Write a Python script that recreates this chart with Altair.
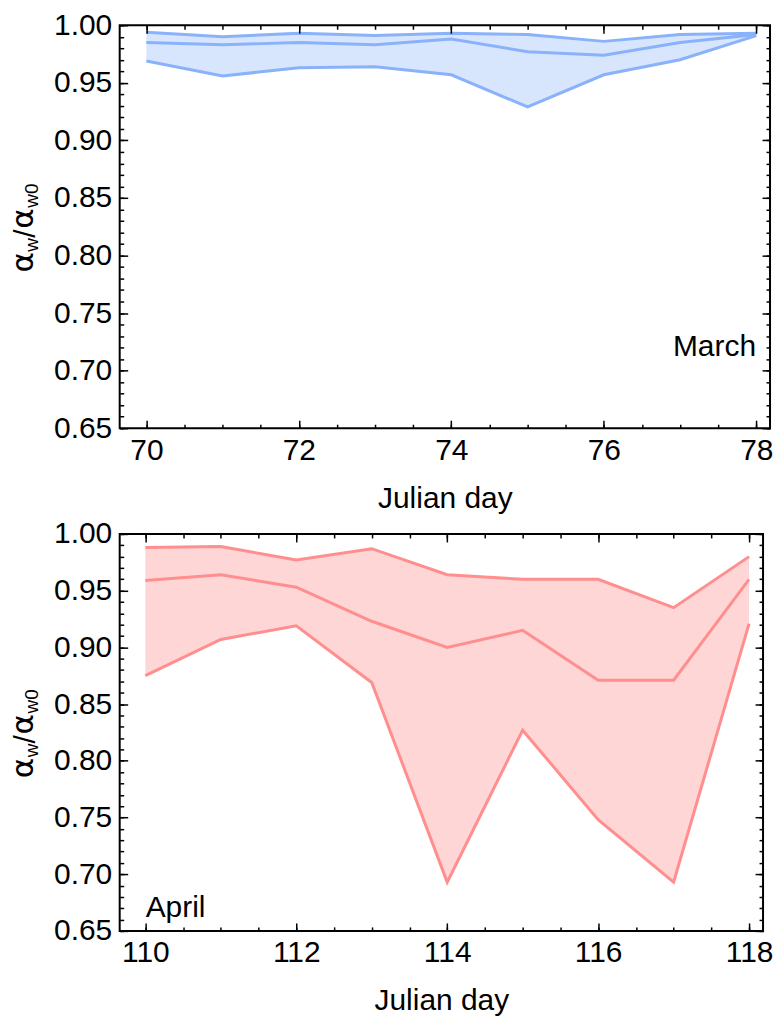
import altair as alt
import pandas as pd

# ---- data ----
march_days = [70, 71, 72, 73, 74, 75, 76, 77, 78]
march_upper = [0.994, 0.990, 0.993, 0.991, 0.993, 0.992, 0.986, 0.992, 0.993]
march_mid = [0.985, 0.983, 0.985, 0.983, 0.988, 0.977, 0.974, 0.985, 0.992]
march_lower = [0.969, 0.956, 0.963, 0.964, 0.957, 0.929, 0.957, 0.970, 0.991]

april_days = [110, 111, 112, 113, 114, 115, 116, 117, 118]
april_upper = [0.988, 0.989, 0.977, 0.987, 0.964, 0.960, 0.960, 0.935, 0.980]
april_mid = [0.959, 0.964, 0.953, 0.923, 0.900, 0.915, 0.871, 0.871, 0.960]
april_lower = [0.875, 0.907, 0.919, 0.869, 0.693, 0.827, 0.748, 0.693, 0.921]

march_ticks = [70, 72, 74, 76, 78]
april_ticks = [110, 112, 114, 116, 118]
y_ticks = [0.65, 0.70, 0.75, 0.80, 0.85, 0.90, 0.95, 1.00]

FONT = "Liberation Sans"
GREEK_FONT = "DejaVu Sans"
FS = 30


def axis_common(**kw):
    base = dict(domain=False, grid=False, ticks=True, tickColor="black", tickWidth=1.5,
                tickOpacity=1, labelFlush=False, labelOverlap=False, zindex=2)
    base.update(kw)
    return alt.Axis(**base)


def panel(days, upper, mid, lower, line_color, fill_color, x_dom, x_major,
          width, height, label_text, label_x, label_y, label_align):
    df = pd.DataFrame({"day": days, "upper": upper, "mid": mid, "lower": lower})
    base = alt.Chart(df)
    xs = alt.Scale(domain=x_dom, nice=False, zero=False)
    ys = alt.Scale(domain=[0.65, 1.0], nice=False, zero=False)
    lo2 = int(-(-x_dom[0] * 2 // 1))
    hi2 = int(x_dom[1] * 2 // 1)
    x_minor = [v / 2 for v in range(lo2, hi2 + 1)]
    y_minor = [round(0.65 + 0.01 * i, 2) for i in range(36)]

    area = base.mark_area(color=fill_color, opacity=1).encode(
        x=alt.X("day:Q", scale=xs, axis=axis_common(
            orient="bottom", values=x_major, offset=-8, tickSize=8, format="d",
            labelFont=FONT, labelFontSize=FS, labelColor="black", labelPadding=7,
            title="Julian day", titleFont=FONT, titleFontSize=FS,
            titleFontWeight="normal", titleColor="black", titlePadding=18)),
        y=alt.Y("lower:Q", scale=ys, axis=axis_common(
            orient="left", values=y_ticks, offset=-8, tickSize=8, format=".2f",
            labelFont=FONT, labelFontSize=FS, labelColor="black", labelPadding=8,
            title=None)),
        y2="upper:Q",
    )
    lines = base.transform_fold(["upper", "mid", "lower"], as_=["series", "val"]).mark_line(
        color=line_color, strokeWidth=3).encode(
        x=alt.X("day:Q", scale=xs, axis=axis_common(
            orient="bottom", values=x_minor, offset=-4, tickSize=4, labels=False,
            title=None, minExtent=0)),
        y=alt.Y("val:Q", scale=ys, axis=axis_common(
            orient="left", values=y_minor, offset=-4, tickSize=4, labels=False,
            title=None, minExtent=0)),
        detail="series:N",
    )
    ghost_major = base.mark_point(opacity=0).encode(
        x=alt.X("day:Q", scale=xs, axis=axis_common(
            orient="top", values=x_major, offset=-8, tickSize=8, labels=False,
            title=None, minExtent=0)),
        y=alt.Y("mid:Q", scale=ys, axis=axis_common(
            orient="right", values=y_ticks, offset=-8, tickSize=8, labels=False,
            title=None, minExtent=0)),
    )
    ghost_minor = base.mark_point(opacity=0).encode(
        x=alt.X("day:Q", scale=xs, axis=axis_common(
            orient="top", values=x_minor, offset=-4, tickSize=4, labels=False,
            title=None, minExtent=0)),
        y=alt.Y("mid:Q", scale=ys, axis=axis_common(
            orient="right", values=y_minor, offset=-4, tickSize=4, labels=False,
            title=None, minExtent=0)),
    )

    one = alt.Chart(pd.DataFrame({"k": [0]}))
    label = one.mark_text(text=label_text, font=FONT, fontSize=FS, color="black",
                          align=label_align, baseline="alphabetic").encode(
        x=alt.value(label_x), y=alt.value(label_y))

    # rotated y-axis title  alpha_w / alpha_w0
    c = height / 2
    pieces = [
        ("α", GREEK_FONT, 31, -87, 46),
        ("w", FONT, 19, -82, 25),
        ("/", FONT, 30, -85, 11),
        ("α", GREEK_FONT, 31, -87, 2),
        ("w0", FONT, 19, -82, -19),
    ]
    title_layers = [
        one.mark_text(text=t, font=f, fontSize=s, color="black", angle=270,
                      align="left", baseline="alphabetic").encode(
            x=alt.value(dx), y=alt.value(c + dy))
        for (t, f, s, dx, dy) in pieces
    ]

    return alt.layer(area, lines, ghost_major, ghost_minor, label, *title_layers).resolve_axis(
        x="independent", y="independent").properties(width=width, height=height)


top = panel(march_days, march_upper, march_mid, march_lower, "#8AB2FA", "#D8E6FD",
            [69.65, 78.18], march_ticks, 652, 404, "March", 638, 332, "right")
bottom = panel(april_days, april_upper, april_mid, april_lower, "#FF8E8E", "#FFD6D6",
               [109.66, 118.185], april_ticks, 645, 398, "April", 26, 384, "left")

chart = alt.vconcat(top, bottom, spacing=4).properties(
    padding={"left": 7, "top": 8, "right": 4, "bottom": 4}
).configure_view(stroke="black", strokeWidth=2)

chart.save("out.html", embed_options={"renderer": "svg", "actions": False})
